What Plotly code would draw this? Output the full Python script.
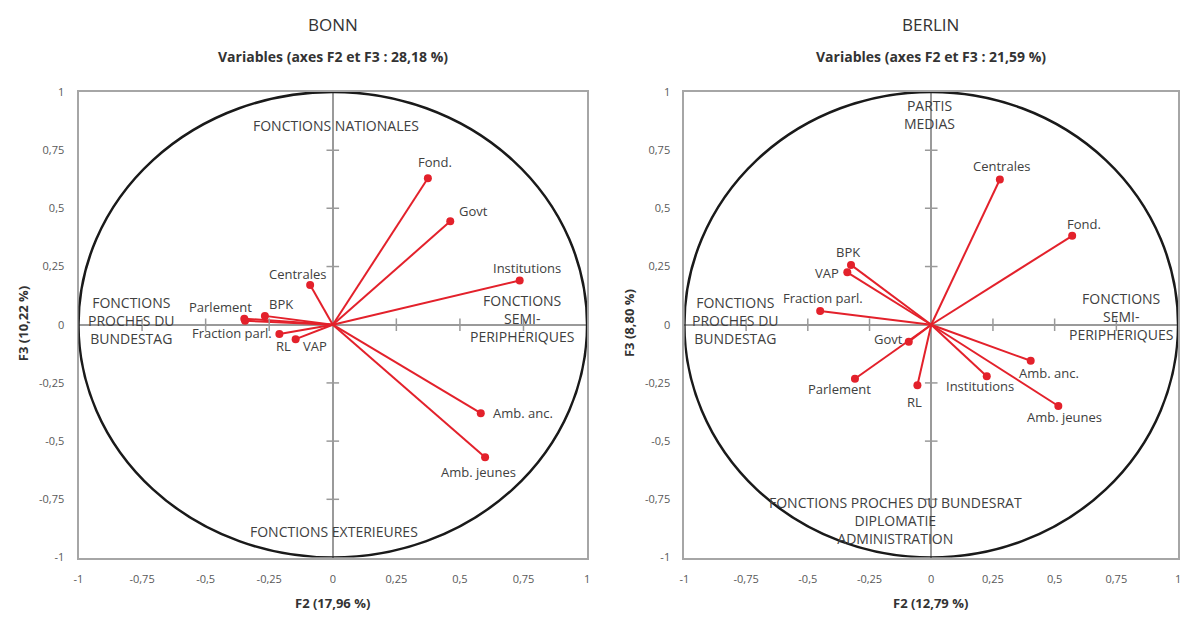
import plotly.graph_objects as go
from plotly.subplots import make_subplots

W, H = 1189, 626

# --- data ---
variables_bonn = ["Fond.", "Govt", "Institutions", "Centrales", "Parlement", "Fraction parl.",
                  "BPK", "RL", "VAP", "Amb. anc.", "Amb. jeunes"]
f2_bonn = [0.374, 0.462, 0.735, -0.089, -0.348, -0.345, -0.267, -0.21, -0.146, 0.582, 0.599]
f3_bonn = [0.629, 0.444, 0.19, 0.171, 0.026, 0.017, 0.038, -0.04, -0.062, -0.38, -0.569]

variables_berlin = ["Centrales", "Fond.", "BPK", "VAP", "Fraction parl.", "Govt", "Parlement",
                    "RL", "Institutions", "Amb. anc.", "Amb. jeunes"]
f2_berlin = [0.278, 0.571, -0.325, -0.34, -0.45, -0.091, -0.309, -0.056, 0.225, 0.403, 0.515]
f3_berlin = [0.624, 0.382, 0.257, 0.225, 0.059, -0.073, -0.232, -0.26, -0.221, -0.155, -0.349]

tick_vals = [-1, -0.75, -0.5, -0.25, 0, 0.25, 0.5, 0.75, 1]
tick_text = ["-1", "-0,75", "-0,5", "-0,25", "0", "0,25", "0,5", "0,75", "1"]

# label offsets in pixels (dx, dy screen-down)
shift_bonn = [(7, -16), (23, -10), (7, -12), (-13, -11), (-24, -12), (-13, 12),
              (16, -12), (4, 12), (19, 7), (42, 0), (-7, 15)]
shift_berlin = [(2, -13), (12, -12), (-3, -13), (-20, 1), (3, -13), (-20, -3),
                (-15, 10), (-3, 17), (-7, 10), (18, 12), (6, 11)]

RED = "#e3212b"
GRAY_TXT = "#404040"
AXIS_GRAY = "#9a9a9a"
FONT = "Open Sans"

fig = make_subplots(rows=1, cols=2)


def add_panel(col, names, xs, ys, shifts):
    lx, ly = [], []
    for x, y in zip(xs, ys):
        lx += [0, x, None]
        ly += [0, y, None]
    fig.add_trace(go.Scatter(x=lx, y=ly, mode="lines", line=dict(color=RED, width=2),
                             hoverinfo="skip", showlegend=False), row=1, col=col)
    fig.add_trace(go.Scatter(x=xs, y=ys, mode="markers", text=names,
                             marker=dict(color=RED, size=8), showlegend=False),
                  row=1, col=col)
    # tick marks along the zero axes
    inner = [t for t in tick_vals if t not in (-1, 0, 1)]
    fig.add_trace(go.Scatter(x=inner, y=[0] * len(inner), mode="markers", hoverinfo="skip",
                             marker=dict(symbol="line-ns", size=9,
                                         line=dict(color=AXIS_GRAY, width=1.5)),
                             showlegend=False), row=1, col=col)
    fig.add_trace(go.Scatter(x=[0] * len(inner), y=inner, mode="markers", hoverinfo="skip",
                             marker=dict(symbol="line-ew", size=9,
                                         line=dict(color=AXIS_GRAY, width=1.5)),
                             showlegend=False), row=1, col=col)
    xref = "x" if col == 1 else "x2"
    yref = "y" if col == 1 else "y2"
    fig.add_shape(type="circle", xref=xref, yref=yref, x0=-1, x1=1, y0=-1, y1=1,
                  line=dict(color="#1a1a1a", width=2.5))
    for n, x, y, (dx, dy) in zip(names, xs, ys, shifts):
        fig.add_annotation(x=x, y=y, xref=xref, yref=yref, text=n, showarrow=False,
                           xshift=dx, yshift=-dy, xanchor="center", yanchor="middle",
                           font=dict(family=FONT, size=13, color=GRAY_TXT))


add_panel(1, variables_bonn, f2_bonn, f3_bonn, shift_bonn)
add_panel(2, variables_berlin, f2_berlin, f3_berlin, shift_berlin)

axis_style = dict(range=[-1, 1], tickvals=tick_vals, ticktext=tick_text, showgrid=False,
                  zeroline=True, zerolinecolor=AXIS_GRAY, zerolinewidth=2,
                  showline=True, mirror=True, linecolor="#a6a6a6", linewidth=2,
                  ticks="outside", ticklen=10, tickcolor="rgba(0,0,0,0)",
                  tickfont=dict(family=FONT, size=11, color="#595959"))

fig.update_xaxes(**axis_style)
fig.update_yaxes(**axis_style)
fig.update_layout(
    xaxis=dict(domain=[74 / W, 586 / W]),
    xaxis2=dict(domain=[684 / W, 1181 / W]),
    yaxis=dict(domain=[1 - 563 / H, 1 - 86 / H]),
    yaxis2=dict(domain=[1 - 563 / H, 1 - 86 / H]),
)


def note(px, py, text, size=14, bold=False, color=GRAY_TXT, angle=0):
    if bold:
        text = "<b>" + text + "</b>"
    fig.add_annotation(x=px / W, y=1 - py / H, xref="paper", yref="paper", text=text,
                       showarrow=False, textangle=angle, xanchor="center", yanchor="middle",
                       font=dict(family=FONT, size=size, color=color))


# titles
note(330, 17, "BONN", size=17, color="#333333")
note(932, 17, "BERLIN", size=17, color="#333333")
note(330, 50, "Variables (axes F2 et F3 : 28,18 %)", size=14, bold=True, color="#333333")
note(932, 50, "Variables (axes F2 et F3 : 21,59 %)", size=14, bold=True, color="#333333")
note(330, 610, "F2 (17,96 %)", size=13, bold=True, color="#333333")
note(932, 610, "F2 (12,79 %)", size=13, bold=True, color="#333333")
note(18, 323, "F3 (10,22 %)", size=13, bold=True, color="#333333", angle=-90)
note(628, 323, "F3 (8,80 %)", size=13, bold=True, color="#333333", angle=-90)

# region labels
note(333, 120, "FONCTIONS NATIONALES")
note(127, 320, "FONCTIONS<br>PROCHES DU<br>BUNDESTAG")
note(521, 318, "FONCTIONS<br>SEMI-<br>PERIPHERIQUES")
note(331, 536, "FONCTIONS EXTERIEURES")
note(931, 109, "PARTIS<br>MEDIAS")
note(735, 320, "FONCTIONS<br>PROCHES DU<br>BUNDESTAG")
note(1124, 316, "FONCTIONS<br>SEMI-<br>PERIPHERIQUES")
note(897, 525, "FONCTIONS PROCHES DU BUNDESRAT<br>DIPLOMATIE<br>ADMINISTRATION")

fig.update_layout(width=W, height=H, margin=dict(l=0, r=0, t=0, b=0),
                  plot_bgcolor="white", paper_bgcolor="white")

page_fix = (
    "document.documentElement.style.margin='0';"
    "document.documentElement.style.overflow='hidden';"
    "document.body.style.margin='0';"
    "document.body.style.overflow='hidden';"
    "var gd=document.getElementById('{plot_id}');"
    "gd.parentElement.style.height='626px';"
    "gd.parentElement.style.overflow='hidden';"
)
fig.write_html("out.html", config={"displayModeBar": False}, post_script=page_fix)
